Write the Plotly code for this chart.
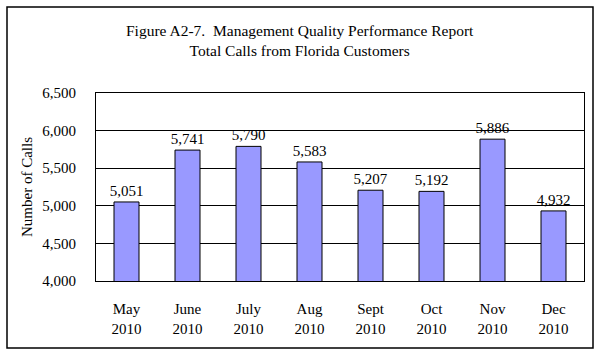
import plotly.graph_objects as go

months = ["May<br>2010", "June<br>2010", "July<br>2010", "Aug<br>2010",
          "Sept<br>2010", "Oct<br>2010", "Nov<br>2010", "Dec<br>2010"]
calls = [5051, 5741, 5790, 5583, 5207, 5192, 5886, 4932]
y_ticks = [4000, 4500, 5000, 5500, 6000, 6500]

W, H = 600, 355
L, R, T, B = 96, 584, 93, 281
pw, ph = R - L, B - T

def px(x):
    return (x - L) / pw

def py(y):
    return (B - y) / ph

font = "Liberation Serif, Times New Roman, serif"
FS = 15

fig = go.Figure(go.Bar(
    x=months, y=calls,
    marker=dict(color="#9999FF", line=dict(color="#000000", width=1)),
    text=[f"{v:,}" for v in calls], textposition="outside",
    textfont=dict(family=font, size=FS, color="black"),
    constraintext="none",
    cliponaxis=False, width=0.41,
))

fig.update_layout(
    width=W, height=H,
    margin=dict(l=L, r=W - R, t=T, b=H - B),
    paper_bgcolor="white", plot_bgcolor="white",
    font=dict(family=font, size=FS, color="black"),
    showlegend=False,
    uniformtext=dict(minsize=FS, mode="show"),
    xaxis=dict(showline=True, linecolor="black", linewidth=1, mirror=True,
               showgrid=False, ticks="outside", ticklen=14, tickcolor="rgba(0,0,0,0)",
               tickfont=dict(family=font, size=FS)),
    yaxis=dict(range=[4000, 6500], tickvals=y_ticks, tickformat=",",
               showline=True, linecolor="black", linewidth=1, mirror=True,
               showgrid=True, gridcolor="black", gridwidth=1,
               ticks="outside", ticklen=16, tickcolor="rgba(0,0,0,0)",
               tickfont=dict(family=font, size=FS),
               title=dict(text="Number of Calls", font=dict(family=font, size=FS), standoff=6)),
    annotations=[
        dict(text="Figure A2-7.  Management Quality Performance Report<br>Total Calls from Florida Customers",
             xref="paper", yref="paper", x=px(300), y=py(40), xanchor="center", yanchor="middle",
             showarrow=False, font=dict(family=font, size=15.5), align="center"),
    ],
    shapes=[
        dict(type="rect", xref="paper", yref="paper",
             x0=px(7), x1=px(593), y0=py(348), y1=py(7),
             line=dict(color="black", width=1.5), fillcolor="rgba(0,0,0,0)", layer="below"),
    ],
)

fig.write_html("out.html", config={"displayModeBar": False},
               post_script="document.body.style.margin='0';")
